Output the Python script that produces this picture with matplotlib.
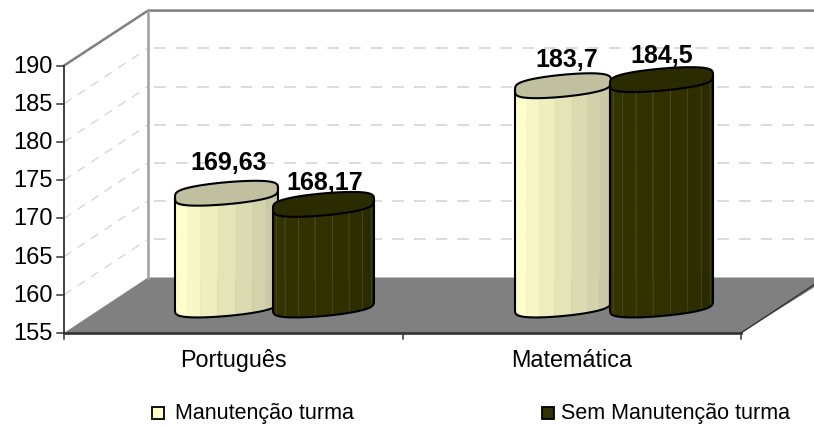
import numpy as np
import matplotlib
matplotlib.use('Agg')
import matplotlib.pyplot as plt

plt.rcParams['font.family'] = ['Liberation Sans', 'DejaVu Sans']

categories = ['Português', 'Matemática']
series_names = ['Manutenção turma', 'Sem Manutenção turma']
manutencao = [169.63, 183.7]
sem_manutencao = [168.17, 184.5]
value_labels = [['169,63', '183,7'], ['168,17', '184,5']]
y_ticks = [155, 160, 165, 170, 175, 180, 185, 190]

# pixel layout of the fake 3D box
X0, X1 = 64, 741
Y155, PX_PER_UNIT = 334, 7.64
DX, DY = 84, 55.5
BASE_CY = 306

light = ['#FFFFCC', '#FFFFCC', '#F6F6C6', '#EEEEBF', '#E4E4B8', '#DBDBB1', '#D2D2AB', '#CACAA6', '#C2C2A0']
dark = ['#333300', '#333300', '#323200', '#323200', '#303000', '#2F2F00', '#2D2D00', '#2B2B00', '#292900']
top_light, top_dark = '#C0C0A0', '#2B2B00'


def val_y(v):
    return Y155 - (v - 155) * PX_PER_UNIT


def outline(ts, a, s, b):
    # flattened ellipse, squared off a bit like the faceted original
    sn = np.sign(np.sin(ts)) * np.abs(np.sin(ts)) ** 0.55
    return -a * np.cos(ts), s * np.cos(ts) + b * sn


fig = plt.figure(figsize=(8.14, 4.27), dpi=100)
ax = fig.add_axes([0, 0, 1, 1])
ax.set_xlim(0, 814)
ax.set_ylim(427, 0)
ax.axis('off')

# back wall and side wall gridlines
for v in y_ticks[1:-1]:
    y = val_y(v)
    ax.plot([X0, X0 + DX], [y, y - DY], color='#d4d4d4', lw=0.9, dashes=(7, 6), zorder=1)
    ax.plot([X0 + DX + 6, 814], [y - DY, y - DY], color='#d4d4d4', lw=1.2, dashes=(7, 6), zorder=1)

# floor
ax.fill([X0, X0 + DX, 830, X1], [Y155, Y155 - DY, Y155 - DY, Y155], color='#808080', lw=0, zorder=2)
ax.plot([X1, X1 + DX], [Y155, Y155 - DY], color='#333333', lw=1.0, zorder=3)

# walls
top = val_y(190)
ax.plot([X0, X0 + DX, 814], [top, top - DY + 0.5, top - DY + 0.5], color='#808080', lw=1.8, zorder=3)
ax.plot([X0 + DX, X0 + DX], [top - DY, Y155 - DY], color='#a0a0a0', lw=1.8, zorder=3)

# front axes
ax.plot([X0, X0], [top, Y155], color='#333333', lw=1.3, zorder=4)
ax.plot([X0, X1], [Y155, Y155], color='#333333', lw=1.9, zorder=4)
for v in y_ticks:
    ax.plot([X0 - 7, X0], [val_y(v), val_y(v)], color='#333333', lw=1.1, zorder=4)
    ax.text(X0 - 11, val_y(v), str(v), ha='right', va='center', fontsize=17, color='black')
for x in [X0, (X0 + X1) / 2, X1]:
    ax.plot([x, x], [Y155, Y155 + 6], color='#333333', lw=1.1, zorder=4)
for i, c in enumerate(categories):
    ax.text(X0 + (i + 0.5) * (X1 - X0) / 2, 361, c, ha='center', va='center', fontsize=16.8, color='black')


def cylinder(cx, a, value, colors, top_color, line_color, z):
    s, b = 4.5, 11
    cy = BASE_CY - (value - 155) * PX_PER_UNIT
    t = np.linspace(0, np.pi, len(colors) + 1)
    for i, col in enumerate(colors):
        ts = np.linspace(t[i], t[i + 1], 8)
        dx, off = outline(ts, a, s, b)
        xs = cx + dx
        ax.fill(np.r_[xs, xs[::-1]], np.r_[BASE_CY + off, cy + off[::-1]], color=col, lw=0.3, zorder=z)
        if line_color and i > 0:
            ax.plot([xs[0], xs[0]], [cy + off[0], BASE_CY + off[0]], color=line_color, lw=0.5, alpha=0.6, zorder=z)
    # side and bottom edge
    ts = np.linspace(0, np.pi, 60)
    dx, off = outline(ts, a, s, b)
    xs = cx + dx
    ax.plot(np.r_[xs[0], xs, xs[-1]], np.r_[cy + off[0], BASE_CY + off, cy + off[-1]], color='black', lw=1.5, zorder=z + 0.2)
    # top cap
    ts = np.linspace(0, 2 * np.pi, 100)
    dx, off = outline(ts, a, s, b)
    ax.fill(cx + dx, cy + off, facecolor=top_color, edgecolor='black', lw=1.5, zorder=z + 0.1)


centers = [[226.5, 563], [323.5, 661.5]]
half_w = [[51.5, 48], [50.5, 51.5]]
label_pos = [[(229, 163), (567, 60)], [(325, 183), (662, 56)]]
for j, vals in enumerate([manutencao, sem_manutencao]):
    for i, v in enumerate(vals):
        if j == 0:
            cylinder(centers[j][i], half_w[j][i], v, light, top_light, None, 5 + j)
        else:
            cylinder(centers[j][i], half_w[j][i], v, dark, top_dark, '#5c5c2e', 5 + j)
        ax.text(label_pos[j][i][0], label_pos[j][i][1], value_labels[j][i], ha='center', va='center',
                fontsize=18, fontweight='bold', color='black', zorder=8)

# legend
leg_x = [152, 542]
leg_off = [23, 19]
for x, off, name, col in zip(leg_x, leg_off, series_names, ['#FFFFCC', '#333300']):
    ax.fill([x, x + 12, x + 12, x], [408, 408, 420, 420], facecolor=col, edgecolor='black', lw=1.3)
    ax.text(x + off, 413.5, name, ha='left', va='center', fontsize=15.5, color='black')

fig.savefig('out.png', dpi=100)
